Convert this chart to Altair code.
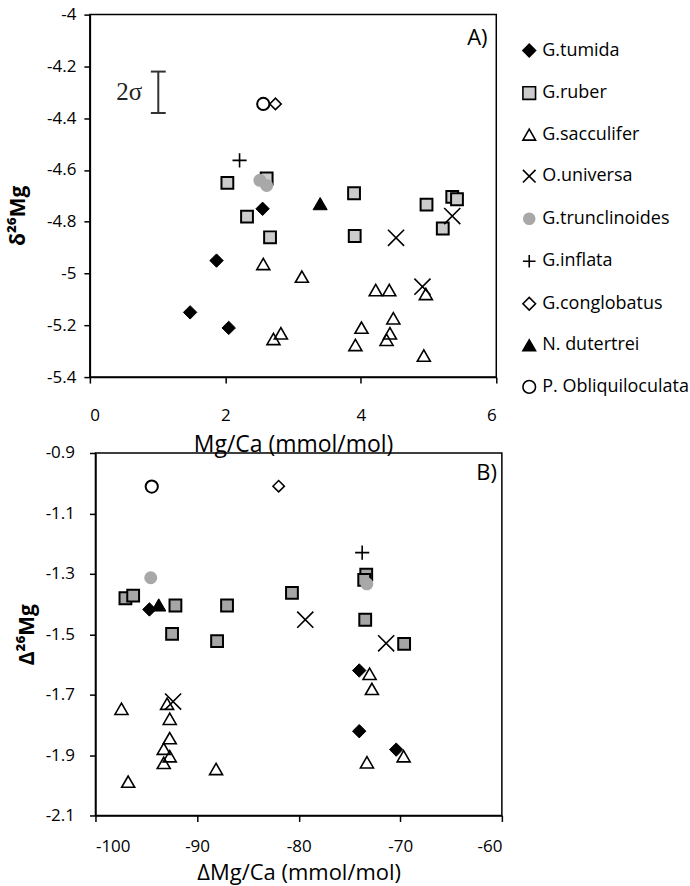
import altair as alt
import pandas as pd

species = ["G.tumida", "G.ruber", "G.sacculifer", "O.universa", "G.trunclinoides",
           "G.inflata", "G.conglobatus", "N. dutertrei", "P. Obliquiloculata"]

# ---------------- Panel A : delta26Mg vs Mg/Ca ----------------
a_tumida_x = [2.55, 1.87, 1.48, 2.05]
a_tumida_y = [-4.75, -4.95, -5.15, -5.21]
a_ruber_x = [2.03, 2.61, 2.32, 2.66, 3.90, 3.91, 4.97, 5.21, 5.35, 5.42]
a_ruber_y = [-4.65, -4.633, -4.78, -4.86, -4.69, -4.855, -4.734, -4.826, -4.704, -4.713]
a_sacc_x = [2.56, 3.13, 4.22, 4.42, 4.96, 4.48, 4.01, 2.82, 2.71, 4.43, 4.38, 3.92, 4.93]
a_sacc_y = [-4.963, -5.012, -5.064, -5.064, -5.079, -5.173, -5.209, -5.231, -5.253, -5.231, -5.256, -5.276, -5.317]
a_univ_x = [5.35, 4.52, 4.91]
a_univ_y = [-4.778, -4.862, -5.051]
a_trunc_x = [2.51, 2.61]
a_trunc_y = [-4.64, -4.66]
a_infl_x = [2.21]
a_infl_y = [-4.563]
a_cong_x = [2.74]
a_cong_y = [-4.345]
a_dut_x = [3.40]
a_dut_y = [-4.73]
a_obl_x = [2.56]
a_obl_y = [-4.345]

# ---------------- Panel B : Delta26Mg vs DeltaMg/Ca ----------------
b_tumida_x = [-94.69, -74.04, -74.04, -70.4]
b_tumida_y = [-1.418, -1.62, -1.821, -1.882]
b_ruber_x = [-73.35, -73.55, -97.05, -96.29, -80.66, -92.13, -87.05, -73.45, -92.46, -88.03, -69.62]
b_ruber_y = [-1.303, -1.32, -1.381, -1.372, -1.363, -1.405, -1.405, -1.452, -1.499, -1.523, -1.532]
b_sacc_x = [-73.02, -72.79, -92.95, -97.44, -92.69, -92.69, -93.28, -92.69, -69.67, -93.28, -73.28, -88.13, -96.78]
b_sacc_y = [-1.631, -1.681, -1.73, -1.747, -1.78, -1.844, -1.879, -1.904, -1.904, -1.926, -1.924, -1.946, -1.988]
b_univ_x = [-79.35, -71.39, -92.36]
b_univ_y = [-1.452, -1.53, -1.723]
b_trunc_x = [-94.56, -73.29]
b_trunc_y = [-1.313, -1.333]
b_infl_x = [-73.75]
b_infl_y = [-1.23]
b_cong_x = [-81.97]
b_cong_y = [-1.01]
b_dut_x = [-93.77]
b_dut_y = [-1.403]
b_obl_x = [-94.46]
b_obl_y = [-1.011]

# axis ticks
a_xticks = [0, 2, 4, 6]
a_yticks = [-5.4, -5.2, -5.0, -4.8, -4.6, -4.4, -4.2, -4.0]
b_xticks = [-100, -90, -80, -70, -60]
b_yticks = [-2.1, -1.9, -1.7, -1.5, -1.3, -1.1, -0.9]

# annotations (data units)
sigma_x = [1.01]
sigma_top = [-4.22]
sigma_bot = [-4.38]
sigma_cap_left = [0.90, 0.90]
sigma_cap_right = [1.12, 1.12]
sigma_cap_y = [-4.22, -4.38]
sigma_label_x = [0.58]
sigma_label_y = [-4.30]
panel_a_label = (["A)"], [5.72], [-4.092])
panel_b_label = (["B)"], [-61.5], [-0.966])

# ---------------- styles ----------------
X_PATH = "M-1,-1L1,1M-1,1L1,-1"
PLUS_PATH = "M-1,0L1,0M0,-1L0,1"
shapes = ["diamond", "square", "triangle-up", X_PATH, "circle",
          PLUS_PATH, "diamond", "triangle-up", "circle"]
fills_a = ["black", "#cccccc", "transparent", "transparent", "#a8a8a8",
           "transparent", "transparent", "black", "transparent"]
fills_b = ["black", "#a6a6a6", "transparent", "transparent", "#a8a8a8",
           "transparent", "transparent", "black", "transparent"]
strokes = ["black", "black", "black", "black", "transparent",
           "black", "black", "black", "black"]
sizes = {"G.tumida": 180, "G.ruber": 140, "G.sacculifer": 170, "O.universa": 260,
         "G.trunclinoides": 170, "G.inflata": 200, "G.conglobatus": 130,
         "N. dutertrei": 200, "P. Obliquiloculata": 150}
swidths = {"G.tumida": 1, "G.ruber": 2, "G.sacculifer": 1.6, "O.universa": 1.6,
           "G.trunclinoides": 0, "G.inflata": 1.6, "G.conglobatus": 1.6,
           "N. dutertrei": 1, "P. Obliquiloculata": 2}


def build(groups):
    rows = []
    for sp, xs, ys in groups:
        for x, y in zip(xs, ys):
            rows.append({"species": sp, "x": x, "y": y})
    df = pd.DataFrame(rows)
    df["sz"] = df["species"].map(sizes)
    df["sw"] = df["species"].map(swidths)
    df["idx"] = range(len(df))
    return df


df_a = build([
    ("G.tumida", a_tumida_x, a_tumida_y), ("G.ruber", a_ruber_x, a_ruber_y),
    ("G.sacculifer", a_sacc_x, a_sacc_y), ("O.universa", a_univ_x, a_univ_y),
    ("G.trunclinoides", a_trunc_x, a_trunc_y), ("G.inflata", a_infl_x, a_infl_y),
    ("G.conglobatus", a_cong_x, a_cong_y), ("N. dutertrei", a_dut_x, a_dut_y),
    ("P. Obliquiloculata", a_obl_x, a_obl_y),
])
df_b = build([
    ("G.tumida", b_tumida_x, b_tumida_y), ("G.ruber", b_ruber_x, b_ruber_y),
    ("G.sacculifer", b_sacc_x, b_sacc_y), ("O.universa", b_univ_x, b_univ_y),
    ("G.trunclinoides", b_trunc_x, b_trunc_y), ("G.inflata", b_infl_x, b_infl_y),
    ("G.conglobatus", b_cong_x, b_cong_y), ("N. dutertrei", b_dut_x, b_dut_y),
    ("P. Obliquiloculata", b_obl_x, b_obl_y),
])

FONT = "Open Sans"
W, H = 407, 363

legend_a = alt.Legend(title=None, orient="none", legendX=431, legendY=27,
                      labelFont=FONT, labelFontSize=18, labelColor="black",
                      symbolSize=160, symbolStrokeWidth=1.6, rowPadding=22.6,
                      labelOffset=4, labelLimit=300)


def points(df, xscale, yscale, xaxis, yaxis, fills, legend):
    return alt.Chart(df).mark_point(filled=True, opacity=1).encode(
        x=alt.X("x:Q", scale=xscale, axis=xaxis),
        y=alt.Y("y:Q", scale=yscale, axis=yaxis),
        shape=alt.Shape("species:N", scale=alt.Scale(domain=species, range=shapes), legend=legend),
        fill=alt.Fill("species:N", scale=alt.Scale(domain=species, range=fills), legend=legend),
        stroke=alt.Stroke("species:N", scale=alt.Scale(domain=species, range=strokes), legend=legend),
        size=alt.Size("sz:Q", scale=None),
        strokeWidth=alt.StrokeWidth("sw:Q", scale=None),
        order=alt.Order("idx:Q"),
    )


xaxis_a = alt.Axis(values=a_xticks, title="Mg/Ca (mmol/mol)", labelExpr="'' + datum.value",
                   labelPadding=24, titlePadding=11, titleFontSize=23)
yaxis_a = alt.Axis(values=a_yticks, title="δ²⁶Mg", labelExpr="'' + datum.value",
                   labelPadding=8, titlePadding=18, titleFontWeight="bold", titleFontSize=21,
                   titleY=201)
pts_a = points(df_a, alt.Scale(domain=[0, 6], nice=False, zero=False),
               alt.Scale(domain=[-5.4, -4.0], nice=False, zero=False),
               xaxis_a, yaxis_a, fills_a, legend_a)

sig_v = alt.Chart(pd.DataFrame({"x": sigma_x, "y": sigma_top, "y2": sigma_bot})).mark_rule(
    color="#333333", strokeWidth=2).encode(x="x:Q", y="y:Q", y2="y2:Q")
sig_h = alt.Chart(pd.DataFrame({"x": sigma_cap_left, "x2": sigma_cap_right, "y": sigma_cap_y})).mark_rule(
    color="#333333", strokeWidth=2).encode(x="x:Q", x2="x2:Q", y="y:Q")
sig_t = alt.Chart(pd.DataFrame({"x": sigma_label_x, "y": sigma_label_y, "t": ["2σ"]})).mark_text(
    font="Liberation Serif", fontSize=25, color="#222222").encode(x="x:Q", y="y:Q", text="t:N")
lab_a = alt.Chart(pd.DataFrame({"t": panel_a_label[0], "x": panel_a_label[1], "y": panel_a_label[2]})).mark_text(
    font=FONT, fontSize=22, color="black").encode(x="x:Q", y="y:Q", text="t:N")

chart_a = alt.layer(pts_a, sig_v, sig_h, sig_t, lab_a).properties(width=W, height=H)

xaxis_b = alt.Axis(values=b_xticks, title="ΔMg/Ca (mmol/mol)", labelExpr="'' + datum.value",
                   labelPadding=17, titlePadding=8, titleFontSize=22)
yaxis_b = alt.Axis(values=b_yticks, title="Δ²⁶Mg", labelExpr="'' + datum.value",
                   labelPadding=15, titlePadding=8, titleFontWeight="bold", titleFontSize=21)
pts_b = points(df_b, alt.Scale(domain=[-100, -60], nice=False, zero=False),
               alt.Scale(domain=[-2.1, -0.9], nice=False, zero=False),
               xaxis_b, yaxis_b, fills_b, None)
lab_b = alt.Chart(pd.DataFrame({"t": panel_b_label[0], "x": panel_b_label[1], "y": panel_b_label[2]})).mark_text(
    font=FONT, fontSize=22, color="black").encode(x="x:Q", y="y:Q", text="t:N")
chart_b = alt.layer(pts_b, lab_b).properties(width=W, height=H)

# invisible spacer that shifts panel B a few pixels to the right, as in the original
spacer = alt.Chart(pd.DataFrame({"v": [0]})).mark_point(opacity=0).encode(
    x=alt.X("v:Q", axis=None), y=alt.Y("v:Q", axis=None)
).properties(width=1, height=H, view=alt.ViewBackground(strokeOpacity=0))

row_b = alt.hconcat(spacer, chart_b, spacing=4.6, bounds="flush")

chart = alt.vconcat(chart_a, row_b, spacing=76, bounds="flush").resolve_scale(
    shape="independent", fill="independent", stroke="independent"
).properties(
    padding={"left": 6, "top": 4, "right": 0, "bottom": 0}
).configure_view(
    stroke="black", strokeWidth=1.5
).configure_axis(
    grid=False, domainColor="black", domainWidth=1.5, tickColor="black", tickWidth=1.5,
    tickSize=6, labelFont=FONT, labelFontSize=17, labelColor="black",
    titleFont=FONT, titleFontSize=22, titleFontWeight="normal", titleColor="black"
)

chart.save("out.html", embed_options={"renderer": "svg", "actions": False})
